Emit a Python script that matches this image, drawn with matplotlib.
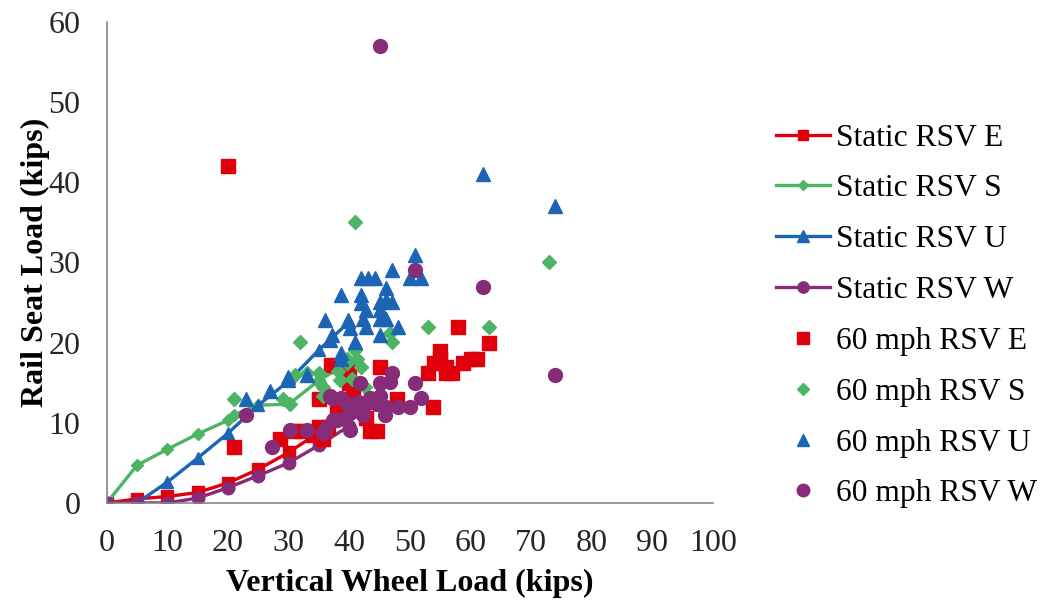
import numpy as np
import matplotlib
matplotlib.use('Agg')
import matplotlib.pyplot as plt

plt.rcParams['font.family'] = ['Liberation Serif', 'DejaVu Serif']

# Static tests: wheel load steps and measured rail seat loads (kips)
static_x = [0, 5, 10, 15, 20, 25, 30, 35, 40]
static_e = [0, 0.5, 0.8, 1.3, 2.5, 4.2, 6.3, 8.8, 12.3]
static_u = [0, 0, 2.6, 5.6, 8.7, 12.2, 15.2, 19.1, 22.6]
static_w = [0, 0, 0, 0.6, 1.9, 3.4, 5.0, 7.2, 9.6]
static_s_x = [0, 5, 10, 15, 20, 21, 25, 30, 35, 40]
static_s = [0, 4.7, 6.7, 8.6, 10.3, 11.0, 12.2, 12.3, 15.3, 17.5]

# 60 mph runs
e60_x = [20, 21, 28.5, 31, 32, 34, 35, 35.7, 36.5, 35, 37, 37.9, 40, 40, 40.6, 42.8, 43.4, 44.5,
         45, 47.8, 53, 53.8, 54, 55, 55, 56, 56, 57, 58.7, 58, 60, 61, 63]
e60_y = [42, 7, 8, 9, 9, 8.5, 9.5, 8, 9.5, 13, 17.2, 11.8, 16.6, 15, 13.3, 10.6, 9, 9,
         17, 13, 16.2, 12, 17.4, 19, 18, 17, 16.2, 16.2, 17.5, 22, 18, 18, 20]

s60_x = [21, 29, 30.2, 31.8, 31, 33, 35, 35, 35.7, 35.6, 38.2, 38.4, 39.6, 39.6, 40.4, 40.9,
         41.2, 42, 42.6, 41, 46.7, 47, 53, 63, 73]
s60_y = [13, 13, 12.4, 20.1, 16, 16.2, 16.2, 15.1, 14.5, 13.3, 16.4, 15.3, 17.4, 18, 15.5, 19.1,
         18, 17, 14.5, 35, 21.2, 20.1, 22, 22, 30]

u60_x = [23, 27, 29.9, 33, 36, 36.8, 37.1, 38.7, 38.7, 38.7, 39.8, 40.1, 40.9, 42, 43.1, 44.2,
         47, 42, 46.1, 46.1, 45, 42, 47, 42.8, 45, 45.6, 42.3, 45, 46.1, 48.1, 42.8, 45,
         50.8, 50, 51.9, 62, 74]
u60_y = [13, 13.9, 15.7, 16, 22.8, 20.3, 20.9, 18.7, 18, 25.9, 22.8, 21.8, 20.1, 28, 28, 28,
         29, 25.9, 26.8, 25.3, 25.1, 24.9, 25.1, 24.1, 24.1, 23.4, 23, 23, 23, 22, 22, 20.9,
         30.9, 28, 28, 41, 37]

w60_x = [23, 27.2, 30.2, 33, 35.7, 36.2, 36.8, 37.3, 37.1, 37.9, 38.7, 39.3, 39.6, 40.1, 40.1,
         41.2, 41.5, 41.7, 42.3, 42.3, 43.4, 43.4, 44.2, 44.5, 45, 45, 45.9, 46.1, 46.7, 47,
         48.1, 50, 50.8, 51.9, 45, 50.8, 62, 74]
w60_y = [11, 7, 9.1, 9.1, 8.7, 9.3, 13.3, 10.3, 13.1, 10.3, 13.1, 10.6, 12.4, 9.1, 11.2,
         12, 12.6, 14.9, 11, 11.8, 12.6, 13.1, 12.8, 12.4, 14.9, 13.3, 11, 12, 15.1, 16.2,
         12, 12, 14.9, 13.1, 57, 29, 27, 16]

vermelho = '#E0000B'
verde = '#4BB565'
azul = '#1C64B4'
roxo = '#872C78'

fig = plt.figure(figsize=(10.47, 6.03), dpi=100)
ax = fig.add_axes([0.102, 0.166, 0.579, 0.7975])

ax.plot(static_x, static_e, '-s', color=vermelho, lw=2.4, ms=8, label='Static RSV E')
ax.plot(static_s_x, static_s, '-D', color=verde, lw=2.4, ms=6, label='Static RSV S')
ax.plot(static_x, static_u, '-^', color=azul, lw=2.4, ms=9, label='Static RSV U')
ax.plot(static_x, static_w, '-o', color=roxo, lw=2.4, ms=9, label='Static RSV W')

ax.plot(e60_x, e60_y, 's', color=vermelho, ms=9.5, ls='none', label='60 mph RSV E')
ax.plot(s60_x, s60_y, 'D', color=verde, ms=7, ls='none', label='60 mph RSV S')
ax.plot(u60_x, u60_y, '^', color=azul, ms=10, ls='none', label='60 mph RSV U')
ax.plot(w60_x, w60_y, 'o', color=roxo, ms=10, ls='none', label='60 mph RSV W')

ax.set_xlim(0, 100)
ax.set_ylim(0, 60)
ax.set_xticks(np.arange(0, 101, 10))
ax.set_yticks(np.arange(0, 61, 10))
ax.tick_params(length=0, labelsize=23, colors='#262626')
ax.tick_params(axis='y', pad=19)
ax.tick_params(axis='x', pad=19)
for lado in ['top', 'right']:
    ax.spines[lado].set_visible(False)
for lado in ['left', 'bottom']:
    ax.spines[lado].set_color('#868686')
    ax.spines[lado].set_linewidth(1.2)

ax.set_xlabel('Vertical Wheel Load (kips)', fontsize=23, fontweight='bold', labelpad=8)
ax.set_ylabel('Rail Seat Load (kips)', fontsize=23, fontweight='bold', labelpad=-1)

leg = fig.legend(loc='center left', bbox_to_anchor=(0.714, 0.476), frameon=False,
                 fontsize=22.7, handlelength=1.7, handletextpad=0.2, labelspacing=0.69,
                 markerscale=0.9)

fig.savefig('out.png', dpi=100)
